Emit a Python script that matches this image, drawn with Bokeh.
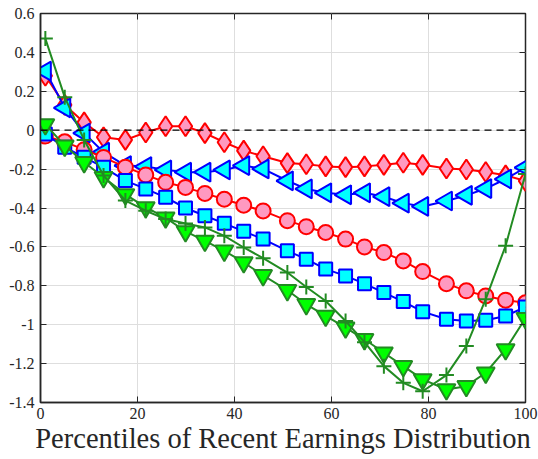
import math
from bokeh.plotting import figure
from bokeh.models import Range1d, FixedTicker, LinearAxis, Span
from bokeh.embed import file_html
from bokeh.resources import INLINE

pct = [1, 5, 9, 13, 17.5, 21.7, 25.8, 29.9, 33.9, 37.9, 41.9, 45.9, 50.9, 54.8,
       58.8, 62.9, 66.8, 70.8, 74.8, 78.8, 83.7, 87.8, 91.8, 95.9, 100]

diamond_vals = [0.28, 0.13, 0.04, -0.036, -0.05, -0.012, 0.02, 0.02, -0.015, -0.062,
                -0.105, -0.134, -0.169, -0.175, -0.186, -0.19, -0.186, -0.178, -0.167,
                -0.178, -0.197, -0.202, -0.215, -0.232, -0.261]
triangle_left_vals = [0.304, 0.115, -0.015, -0.113, -0.182, -0.187, -0.204, -0.216, -0.216,
                      -0.204, -0.182, -0.199, -0.26, -0.302, -0.322, -0.332, -0.322, -0.342,
                      -0.375, -0.392, -0.364, -0.335, -0.300, -0.251, -0.192]
circle_vals = [-0.03, -0.06, -0.10, -0.14, -0.19, -0.23, -0.268, -0.294, -0.325, -0.355,
               -0.386, -0.415, -0.465, -0.496, -0.526, -0.56, -0.60, -0.629, -0.672, -0.727,
               -0.789, -0.826, -0.852, -0.874, -0.887]
square_vals = [-0.02, -0.088, -0.139, -0.191, -0.259, -0.302, -0.345, -0.40, -0.44, -0.479,
               -0.52, -0.56, -0.62, -0.663, -0.714, -0.749, -0.789, -0.835, -0.881, -0.933,
               -0.972, -0.981, -0.977, -0.955, -0.909]
plus_vals = [0.471, 0.17, -0.05, -0.233, -0.362, -0.414, -0.457, -0.48, -0.50, -0.543,
             -0.603, -0.658, -0.732, -0.806, -0.878, -0.981, -1.09, -1.213, -1.299, -1.342,
             -1.259, -1.11, -0.869, -0.594, -0.225]
triangle_down_vals = [0.03, -0.08, -0.165, -0.242, -0.33, -0.397, -0.45, -0.52, -0.569, -0.62,
                      -0.68, -0.746, -0.823, -0.895, -0.955, -1.015, -1.075, -1.144, -1.213,
                      -1.281, -1.333, -1.316, -1.247, -1.127, -0.967]

x_ticks = [0, 20, 40, 60, 80, 100]
y_ticks = [-1.4, -1.2, -1.0, -0.8, -0.6, -0.4, -0.2, 0.0, 0.2, 0.4, 0.6]
y_tick_labels = ["-1.4", "-1.2", "-1", "-0.8", "-0.6", "-0.4", "-0.2", "0", "0.2", "0.4", "0.6"]
x_label = "Percentiles of Recent Earnings Distribution"

AX = "#262626"
FONT = "Liberation Serif"
RED, PINK = "#ff0000", "#ff99c0"
BLUE, CYAN = "#0000ff", "#00ffff"
GREEN, LIME = "#228b22", "#00ff00"

p = figure(width=538, height=459, output_backend="svg", toolbar_location=None,
           x_range=Range1d(0, 100), y_range=Range1d(-1.4, 0.6),
           min_border_left=40, min_border_top=13, min_border_right=13, min_border_bottom=57)
p.outline_line_color = AX
p.outline_line_width = 1.5
p.background_fill_color = "white"
p.border_fill_color = "white"

for ax in (p.xaxis[0], p.yaxis[0]):
    ax.major_tick_in = 6
    ax.major_tick_out = 0
    ax.minor_tick_in = 0
    ax.minor_tick_out = 0
    ax.axis_line_color = AX
    ax.axis_line_width = 1.5
    ax.major_tick_line_color = AX
    ax.major_tick_line_width = 1
    ax.major_label_text_font = FONT
    ax.major_label_text_font_size = "16px"
    ax.major_label_text_color = AX

p.yaxis[0].major_label_standoff = 6
p.xaxis[0].major_label_standoff = 5
p.xaxis[0].ticker = FixedTicker(ticks=x_ticks)
p.yaxis[0].ticker = FixedTicker(ticks=y_ticks)
p.yaxis[0].major_label_overrides = {t: s for t, s in zip(y_ticks, y_tick_labels)}
p.xaxis[0].major_label_overrides = {t: str(t) for t in x_ticks}
p.xaxis[0].axis_label = x_label
p.xaxis[0].axis_label_text_font = FONT
p.xaxis[0].axis_label_text_font_size = "28.5px"
p.xaxis[0].axis_label_text_font_style = "normal"
p.xaxis[0].axis_label_text_color = AX
p.xaxis[0].axis_label_standoff = 1

# inward ticks on the top and right edges of the box (axes pinned to the far edges)
top_ticks = LinearAxis(ticker=FixedTicker(ticks=x_ticks), fixed_location=0.6,
                       major_tick_in=0, major_tick_out=6, minor_tick_in=0, minor_tick_out=0,
                       major_label_overrides={t: "" for t in x_ticks},
                       axis_line_color=None, major_tick_line_color=AX, major_tick_line_width=1)
p.add_layout(top_ticks, "below")
right_ticks = LinearAxis(ticker=FixedTicker(ticks=y_ticks), fixed_location=100,
                         major_tick_in=0, major_tick_out=6, minor_tick_in=0, minor_tick_out=0,
                         major_label_overrides={t: "" for t in y_ticks},
                         axis_line_color=None, major_tick_line_color=AX, major_tick_line_width=1)
p.add_layout(right_ticks, "left")

p.xgrid.ticker = FixedTicker(ticks=x_ticks)
p.ygrid.ticker = FixedTicker(ticks=y_ticks)
p.grid.grid_line_color = "#dedede"
p.grid.grid_line_width = 1

p.add_layout(Span(location=0, dimension="width", line_color="black",
                  line_width=1.3, line_dash="7 5"))

LW = 2
# diamonds
p.line(pct, diamond_vals, line_color=RED, line_width=LW)
p.scatter(pct, diamond_vals, marker="diamond", size=20, line_color=RED, line_width=LW,
          fill_color=PINK)
# left triangles
p.line(pct, triangle_left_vals, line_color=BLUE, line_width=LW)
p.scatter(pct, triangle_left_vals, marker="triangle", angle=math.pi / 2, size=19,
          line_color=BLUE, line_width=LW, fill_color=CYAN)
# circles
p.line(pct, circle_vals, line_color=RED, line_width=LW)
p.scatter(pct, circle_vals, marker="circle", size=15, line_color=RED, line_width=LW,
          fill_color=PINK)
# squares
p.line(pct, square_vals, line_color=BLUE, line_width=LW)
p.scatter(pct, square_vals, marker="square", size=13, line_color=BLUE, line_width=LW,
          fill_color=CYAN)
# down triangles
p.line(pct, triangle_down_vals, line_color=GREEN, line_width=LW)
p.scatter(pct, triangle_down_vals, marker="inverted_triangle", size=18, line_color=GREEN,
          line_width=LW, fill_color=LIME)
# plus
p.line(pct, plus_vals, line_color=GREEN, line_width=LW)
p.scatter(pct, plus_vals, marker="cross", size=15, line_color=GREEN, line_width=LW)

open("out.html", "w").write(file_html(p, INLINE))
